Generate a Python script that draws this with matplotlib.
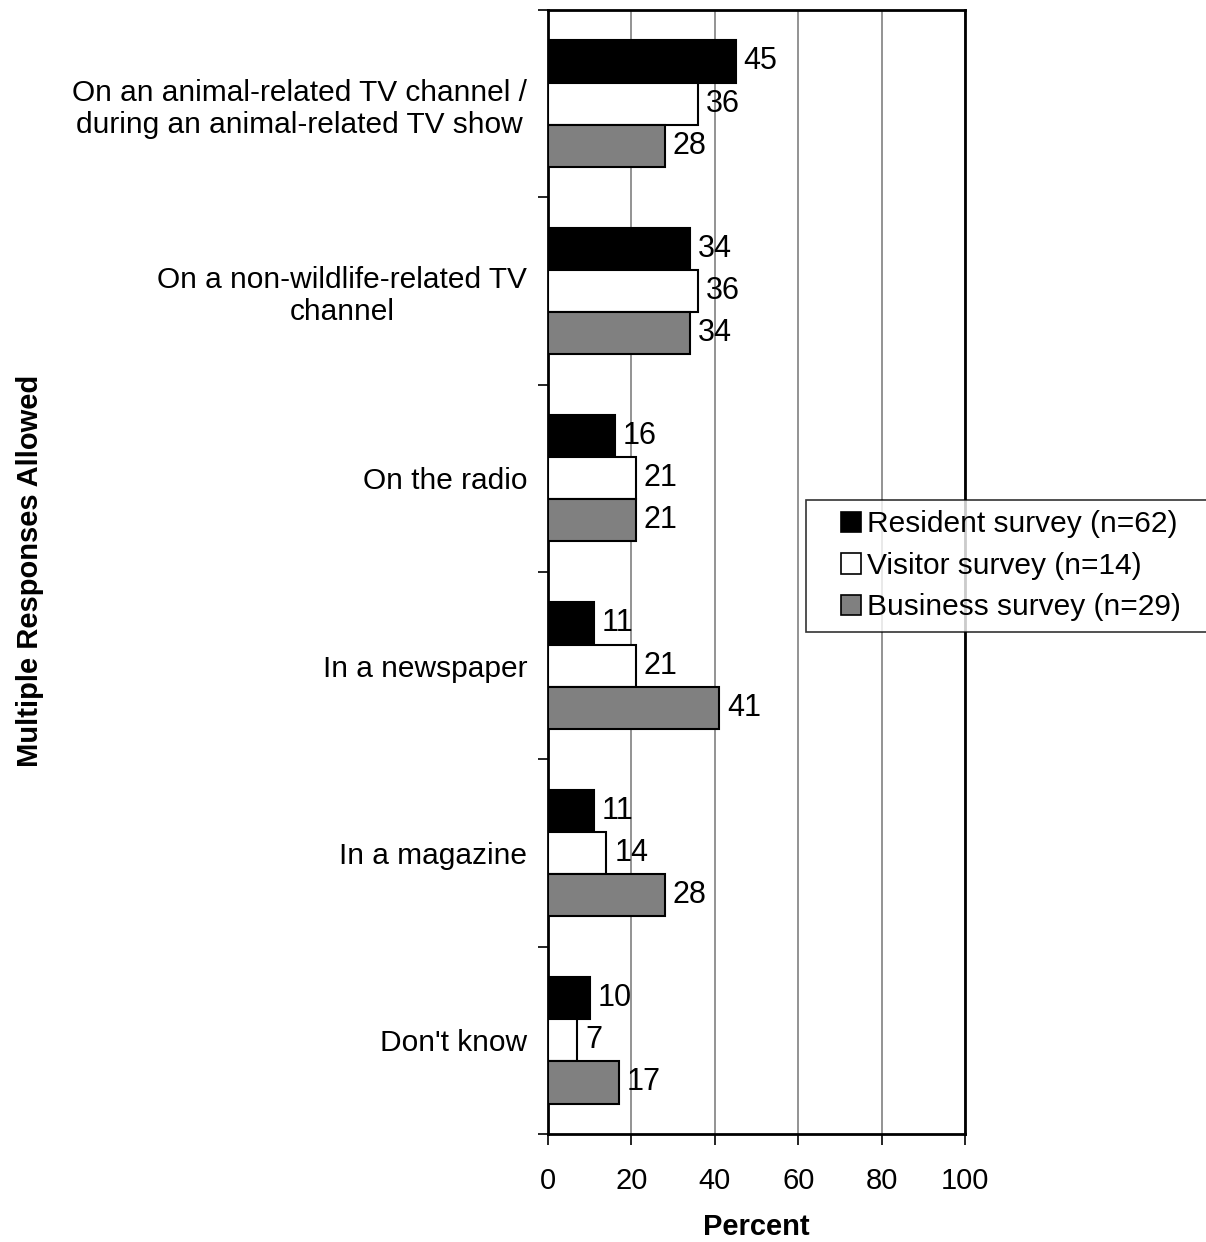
import numpy as np
import matplotlib.pyplot as plt
from matplotlib.patches import Patch, Rectangle
from matplotlib.legend_handler import HandlerPatch

plt.rcParams['font.family'] = ['Liberation Sans', 'DejaVu Sans']

categories = [
    "On an animal-related TV channel /\nduring an animal-related TV show",
    "On a non-wildlife-related TV\nchannel",
    "On the radio",
    "In a newspaper",
    "In a magazine",
    "Don't know",
]
resident = [45, 34, 16, 11, 11, 10]
visitor = [36, 36, 21, 21, 14, 7]
business = [28, 34, 21, 41, 28, 17]

series = [
    ("Resident survey (n=62)", resident, "black"),
    ("Visitor survey (n=14)", visitor, "white"),
    ("Business survey (n=29)", business, "#808080"),
]

fig = plt.figure(figsize=(12.06, 12.42), dpi=100)
ax = fig.add_axes([0.4544, 0.087, 0.3458, 0.905])

y = np.arange(len(categories))
h = 0.225
for i, (name, vals, col) in enumerate(series):
    pos = y + (i - 1) * h
    ax.barh(pos, vals, height=h, color=col, edgecolor="black", linewidth=1.5, zorder=3)
    for p, v in zip(pos, vals):
        ax.text(v + 1.9, p, str(v), va="center", ha="left", fontsize=22, zorder=4)

ax.set_xlim(0, 100)
ax.set_ylim(len(categories) - 0.5, -0.5)
ax.set_xticks([0, 20, 40, 60, 80, 100])
ax.tick_params(axis="x", labelsize=21, length=8, width=1.2, pad=16, direction="out")
ax.grid(axis="x", color="#808080", linewidth=1.2, zorder=0)

ax.set_yticks(y)
ax.set_yticklabels(categories, multialignment="center")
ax.tick_params(axis="y", which="major", length=0, pad=15, labelsize=21.5)
ax.set_yticks(np.arange(-0.5, len(categories)), minor=True)
ax.tick_params(axis="y", which="minor", length=7, width=1.2, direction="out")

for s in ax.spines.values():
    s.set_linewidth(2)

ax.set_xlabel("Percent", fontsize=21, fontweight="bold", labelpad=13)
fig.text(0.025, 0.54, "Multiple Responses Allowed", rotation=90, fontsize=21,
         fontweight="bold", ha="center", va="center")


# small square swatch sitting at the right end of the handle box
def square_swatch(legend, orig_handle, xdescent, ydescent, width, height, fontsize):
    s = 0.68 * fontsize
    return Rectangle((-xdescent + width - s, -ydescent + (height - s) / 2), s, s)


handles = [Patch(facecolor=c, edgecolor="black", linewidth=1.2, label=n) for n, _, c in series]
leg = fig.legend(handles=handles, loc="upper left",
                 bbox_to_anchor=(0.668, 0.4911, 0.34, 0.1063), mode="expand",
                 fontsize=21.5, frameon=True, fancybox=False, handlelength=1.5,
                 handleheight=0.7, handletextpad=0.2, borderpad=0.35, labelspacing=0.45,
                 borderaxespad=0,
                 handler_map={Patch: HandlerPatch(patch_func=square_swatch)})
leg.get_frame().set_edgecolor("black")
leg.get_frame().set_linewidth(1.2)

fig.savefig("out.png", dpi=100)
